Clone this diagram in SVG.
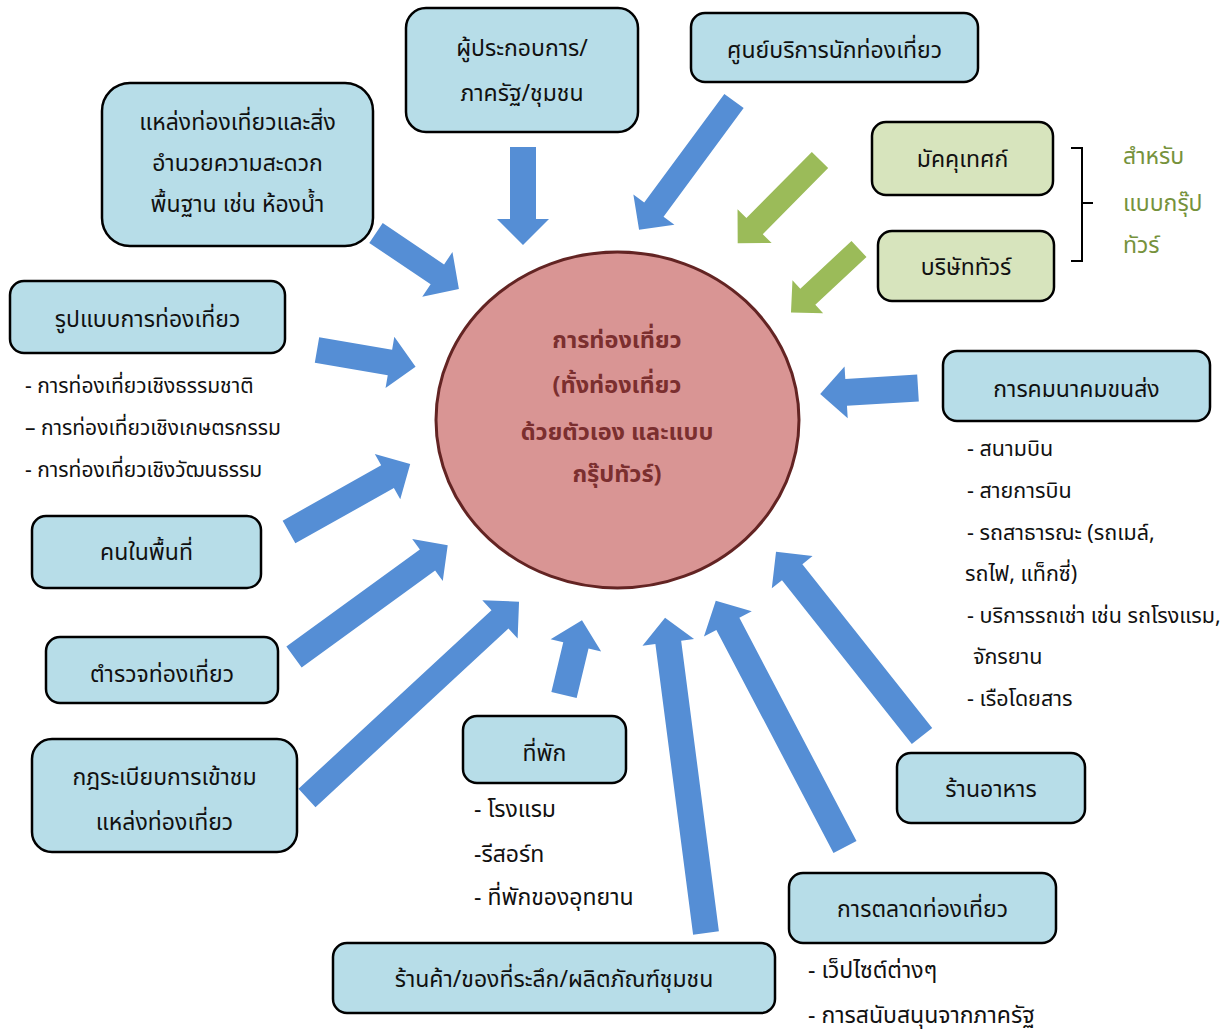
<svg xmlns="http://www.w3.org/2000/svg" width="1232" height="1031" viewBox="0 0 1232 1031">
<style>
text{font-family:"Noto Sans Thai","Noto Sans","DejaVu Sans",sans-serif;font-size:21px;fill:#111}
.c{text-anchor:middle;font-size:23px}
.l{font-size:23px}
.t{font-size:21.5px}
.box{fill:#b7dde8;stroke:#000;stroke-width:2.5}
.gbox{fill:#d7e4bd;stroke:#000;stroke-width:2.5}
.ab{fill:#558ed5}
.ag{fill:#9bbb59}
.g{fill:#76923c;font-size:23px}
.ct{fill:#7b2f2f;font-weight:bold;text-anchor:middle;font-size:23.5px}
</style>
<rect width="1232" height="1031" fill="#fff"/>
<g id="connectors">
<polygon class="ab" transform="translate(376,233) rotate(34)" points="0,-12 74,-12 74,-27 100,0 74,27 74,12 0,12"/>
<polygon class="ab" transform="translate(317,350) rotate(9.7)" points="0,-13 74,-13 74,-26 100,0 74,26 74,13 0,13"/>
<polygon class="ab" transform="translate(523,147) rotate(90)" points="0,-13 72,-13 72,-26 98,0 72,26 72,13 0,13"/>
<polygon class="ab" transform="translate(734,101) rotate(126.4)" points="0,-12 135,-12 135,-25.5 160,0 135,25.5 135,12 0,12"/>
<polygon class="ag" transform="translate(820,160) rotate(134.7)" points="0,-11.5 93,-11.5 93,-24 117,0 93,24 93,11.5 0,11.5"/>
<polygon class="ag" transform="translate(859,249) rotate(137)" points="0,-11 70,-11 70,-22.5 93,0 70,22.5 70,11 0,11"/>
<polygon class="ab" transform="translate(918,388) rotate(176.5)" points="0,-13.5 72,-13.5 72,-26 98,0 72,26 72,13.5 0,13.5"/>
<polygon class="ab" transform="translate(289,532) rotate(-29.3)" points="0,-13 113,-13 113,-26 139,0 113,26 113,13 0,13"/>
<polygon class="ab" transform="translate(294,657) rotate(-36)" points="0,-13 165,-13 165,-26 190,0 165,26 165,13 0,13"/>
<polygon class="ab" transform="translate(307,798) rotate(-42.8)" points="0,-12.5 263,-12.5 263,-26 289,0 263,26 263,12.5 0,12.5"/>
<polygon class="ab" transform="translate(564,695) rotate(-76.5)" points="0,-13 51,-13 51,-26 77,0 51,26 51,13 0,13"/>
<polygon class="ab" transform="translate(706,933) rotate(-97.4)" points="0,-13 293,-13 293,-26 318,0 293,26 293,13 0,13"/>
<polygon class="ab" transform="translate(845,847) rotate(-117.7)" points="0,-13 252,-13 252,-27 278,0 252,27 252,13 0,13"/>
<polygon class="ab" transform="translate(922,736) rotate(-128.4)" points="0,-13 209,-13 209,-26 235,0 209,26 209,13 0,13"/>
<path d="M1071,148 H1082 V203 H1093 M1082,203 V261 H1071" fill="none" stroke="#000" stroke-width="2"/>
</g>
<g id="center">
<ellipse cx="617.5" cy="420" rx="181.5" ry="168" fill="#d99594" stroke="#632423" stroke-width="3"/>
<text class="ct" x="617" y="348">การท่องเที่ยว</text>
<text class="ct" x="617" y="393">(ทั้งท่องเที่ยว</text>
<text class="ct" x="617" y="440">ด้วยตัวเอง และแบบ</text>
<text class="ct" x="617" y="482">กรุ๊ปทัวร์)</text>
</g>
<g id="operator">
<rect class="box" x="406" y="8" width="232" height="124" rx="20"/>
<text class="c" x="522" y="56">ผู้ประกอบการ/</text>
<text class="c" x="522" y="101">ภาครัฐ/ชุมชน</text>
</g>
<g id="info-center">
<rect class="box" x="691" y="13" width="287" height="69" rx="14"/>
<text class="c" x="834.5" y="58">ศูนย์บริการนักท่องเที่ยว</text>
</g>
<g id="attractions">
<rect class="box" x="102" y="83" width="271" height="163" rx="28"/>
<text class="c" x="237.5" y="130">แหล่งท่องเที่ยวและสิ่ง</text>
<text class="c" x="237.5" y="171">อำนวยความสะดวก</text>
<text class="c" x="237.5" y="212">พื้นฐาน เช่น ห้องน้ำ</text>
</g>
<g id="tour-types">
<rect class="box" x="10" y="281" width="275" height="72" rx="14"/>
<text class="c" x="147.5" y="327">รูปแบบการท่องเที่ยว</text>
<text x="25" y="393">- การท่องเที่ยวเชิงธรรมชาติ</text>
<text x="25" y="435">– การท่องเที่ยวเชิงเกษตรกรรม</text>
<text x="25" y="477">- การท่องเที่ยวเชิงวัฒนธรรม</text>
</g>
<g id="guide">
<rect class="gbox" x="872" y="122" width="181" height="73" rx="14"/>
<text class="c" x="962.5" y="167">มัคคุเทศก์</text>
</g>
<g id="tour-company">
<rect class="gbox" x="878" y="231" width="176" height="70" rx="14"/>
<text class="c" x="966" y="275">บริษัททัวร์</text>
</g>
<g id="group-note">
<text class="g" x="1123" y="164">สำหรับ</text>
<text class="g" x="1123" y="211">แบบกรุ๊ป</text>
<text class="g" x="1123" y="253">ทัวร์</text>
</g>
<g id="transport">
<rect class="box" x="943" y="351" width="267" height="70" rx="14"/>
<text class="c" x="1076.5" y="397">การคมนาคมขนส่ง</text>
<text class="t" x="967" y="456">- สนามบิน</text>
<text class="t" x="967" y="498">- สายการบิน</text>
<text class="t" x="967" y="540">- รถสาธารณะ (รถเมล์,</text>
<text class="t" x="965" y="581">รถไฟ, แท็กซี่)</text>
<text class="t" x="967" y="623">- บริการรถเช่า เช่น รถโรงแรม,</text>
<text class="t" x="973" y="664">จักรยาน</text>
<text class="t" x="967" y="706">- เรือโดยสาร</text>
</g>
<g id="locals">
<rect class="box" x="32" y="516" width="229" height="72" rx="14"/>
<text class="c" x="146.5" y="560">คนในพื้นที่</text>
</g>
<g id="police">
<rect class="box" x="46" y="637" width="232" height="66" rx="14"/>
<text class="c" x="162" y="682">ตำรวจท่องเที่ยว</text>
</g>
<g id="rules">
<rect class="box" x="32" y="739" width="265" height="113" rx="20"/>
<text class="c" x="164.5" y="785">กฎระเบียบการเข้าชม</text>
<text class="c" x="164.5" y="830">แหล่งท่องเที่ยว</text>
</g>
<g id="lodging">
<rect class="box" x="463" y="716" width="163" height="67" rx="14"/>
<text class="c" x="544.5" y="761">ที่พัก</text>
<text class="l" x="474" y="817">- โรงแรม</text>
<text class="l" x="474" y="862">-รีสอร์ท</text>
<text class="l" x="474" y="905">- ที่พักของอุทยาน</text>
</g>
<g id="shops">
<rect class="box" x="333" y="943" width="442" height="70" rx="14"/>
<text class="c" x="554" y="987">ร้านค้า/ของที่ระลึก/ผลิตภัณฑ์ชุมชน</text>
</g>
<g id="restaurant">
<rect class="box" x="897" y="753" width="188" height="70" rx="14"/>
<text class="c" x="991" y="797">ร้านอาหาร</text>
</g>
<g id="marketing">
<rect class="box" x="789" y="873" width="267" height="70" rx="14"/>
<text class="c" x="922.5" y="917">การตลาดท่องเที่ยว</text>
<text class="l" x="808" y="978">- เว็ปไซต์ต่างๆ</text>
<text class="l" x="808" y="1023">- การสนับสนุนจากภาครัฐ</text>
</g>
</svg>
